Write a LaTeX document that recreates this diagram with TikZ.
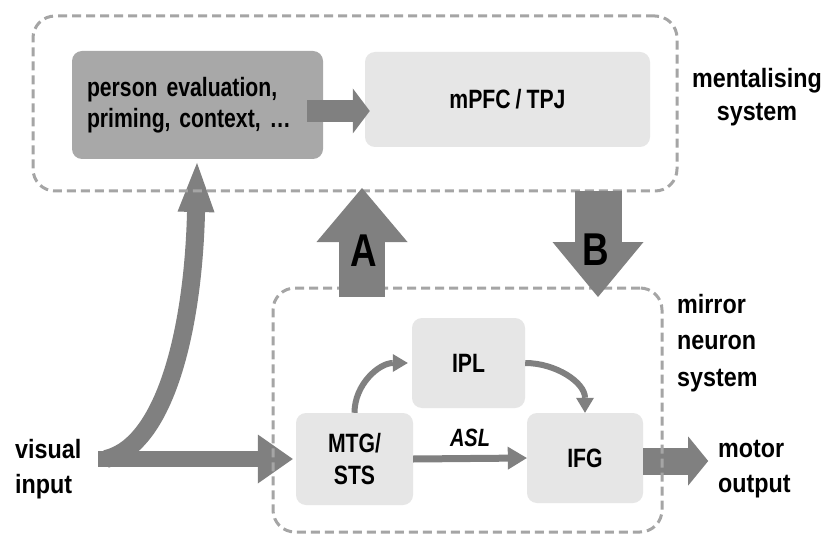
\documentclass[tikz,border=0pt]{standalone}
\usepackage{fontspec}
\newfontfamily\lblfont{Liberation Sans}[FakeStretch=0.8, WordSpace=0.85]
\newfontfamily\sidefont{Liberation Sans}[FakeStretch=0.88]
\usetikzlibrary{arrows.meta}
\definecolor{arrowgray}{RGB}{128,128,128}
\definecolor{boxdark}{RGB}{168,168,168}
\definecolor{boxlight}{RGB}{230,230,230}
\definecolor{dashgray}{RGB}{165,165,165}
\tikzset{
  lbl/.style={font=\lblfont\bfseries\fontsize{26.5}{32}\selectfont},
  box/.style={lbl, rounded corners=10pt, inner sep=0pt, align=center},
  darkbox/.style={box, fill=boxdark},
  lightbox/.style={box, fill=boxlight},
  sidelabel/.style={inner sep=0pt},
  dashbox/.style={draw=dashgray, line width=3pt, dash pattern=on 9pt off 5pt,
                  rounded corners=22pt, inner sep=0pt},
  fatarrow/.style n args={3}{draw=arrowgray, line width=#1pt,
     -{Triangle[width=#2pt,length=#3pt,line width=0pt]}},
  thinarrow/.style={draw=arrowgray, line width=6pt,
     -{Triangle[width=18pt,length=15pt,line width=0pt]}},
  letter/.style={font=\lblfont\bfseries\fontsize{46}{46}\selectfont, inner sep=0pt}
}
\begin{document}
\begin{tikzpicture}[x=1pt,y=-1pt]
\useasboundingbox (0,0) rectangle (826,537);
\fill[white] (0,0) rectangle (826,537);

% mentalising system boxes
\node[darkbox, minimum width=251pt, minimum height=108pt, text width=221pt,
      align=left, font=\lblfont\bfseries\fontsize{26.5}{31}\selectfont]
      (pe) at (197.5,105) {person evaluation,\\priming, context, \dots};
\node[lightbox, minimum width=285pt, minimum height=95pt] (mpfc) at (507.5,99.5) {mPFC / TPJ};

% mirror neuron system boxes
\node[lightbox, minimum width=113pt, minimum height=90pt] (ipl) at (468.5,363) {IPL};
\node[lightbox, minimum width=117pt, minimum height=92pt] (mtg) at (354.5,459) {MTG/\\STS};
\node[lightbox, minimum width=116pt, minimum height=90pt] (ifg) at (585,458) {IFG};

% side labels
\node[sidelabel, align=center, font=\sidefont\bfseries\fontsize{26.5}{33}\selectfont]
      (mentlbl) at (757,97.6) {mentalising\\system};
\node[sidelabel, align=left, anchor=west, font=\sidefont\bfseries\fontsize{26.5}{36.5}\selectfont]
      (mnslbl) at (677,343) {mirror\\neuron\\system};
\node[sidelabel, align=left, anchor=west, font=\sidefont\bfseries\fontsize{26.5}{35}\selectfont]
      (vin) at (15,468.7) {visual\\input};
\node[sidelabel, align=left, anchor=west, font=\sidefont\bfseries\fontsize{26.5}{35}\selectfont]
      (mout) at (718,469.5) {motor\\output};

% visual input: straight branch and curved branch
\coordinate (vstart) at (98,459);
\coordinate (vbend) at (106,459);
\coordinate (vtip) at (197,163);
\draw[fatarrow={16}{49}{35}] (vstart) -- ([xshift=-3pt]mtg.west);
\draw[fatarrow={18}{37}{49}] (vbend) .. controls (165,445) and (193,330) .. (196,213) -- (vtip);

% motor output
\draw[fatarrow={27}{49}{20}] ([yshift=-3pt]ifg.east) -- ([xshift=65pt,yshift=-3pt]ifg.east);

% evaluation feeds mPFC / TPJ
\draw[fatarrow={22}{45}{17}] ([xshift=-16pt,yshift=-6pt]pe.east) -- ([xshift=5pt,yshift=-11.5pt]mpfc.west);

% pathways within the mirror neuron system
\draw[thinarrow] (mtg.north) to[out=90,in=180] ([xshift=-4pt]ipl.west);
\draw[thinarrow] (ipl.east) to[out=0,in=90] (ifg.north);
\draw[draw=arrowgray, line width=7pt, -{Triangle[width=23pt,length=19pt,line width=0pt]}]
      (mtg.east) -- (ifg.west) node[midway, yshift=21pt, inner sep=0pt,
      font=\lblfont\bfseries\itshape\fontsize{25}{30}\selectfont] (asl) {ASL};

% system outlines
\node[dashbox, minimum width=644pt, minimum height=175pt] (ment) at (355,103.5) {};
\node[dashbox, minimum width=389pt, minimum height=244pt] (mns) at (467.5,410) {};

% pathways A and B between the systems
\coordinate (Abot) at (362,297);
\coordinate (Atop) at (362,188);
\coordinate (Btop) at (598,191);
\coordinate (Bbot) at (598,297);
\draw[fatarrow={46}{91}{54}] (Abot) -- (Atop);
\draw[fatarrow={47}{91}{55}] (Btop) -- (Bbot);
\node[letter] (alabel) at (364,251) {A};
\node[letter] (blabel) at (596,250) {B};
\end{tikzpicture}
\end{document}
